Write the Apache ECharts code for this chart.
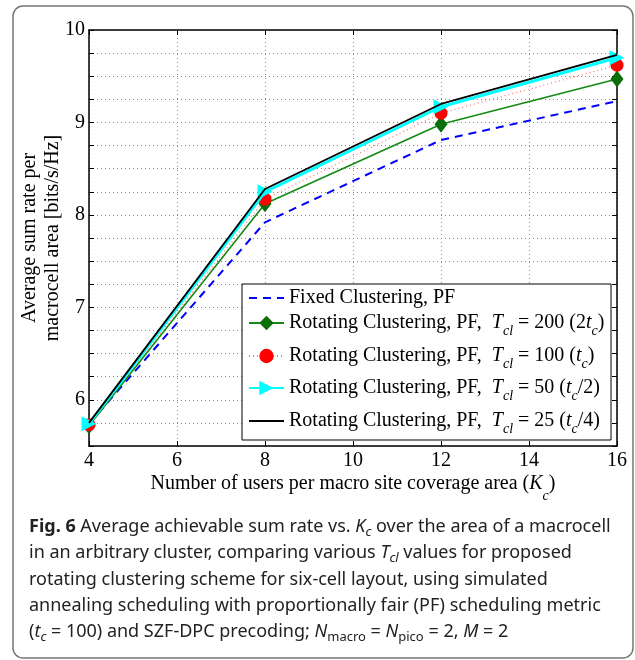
<!DOCTYPE html>
<html>
<head>
<meta charset="utf-8">
<script src="https://cdn.jsdelivr.net/npm/echarts@6/dist/echarts.min.js"></script>
<style>html,body{margin:0;padding:0;background:#fff}#c{width:635px;height:660px}</style>
</head>
<body>
<div id="c"></div>
<script>
const xValues = [4, 8, 12, 16];
const fixedPF = [5.74, 7.92, 8.81, 9.23];
const rotT200 = [5.72, 8.12, 8.98, 9.47];
const rotT100 = [5.73, 8.17, 9.10, 9.62];
const rotT50 = [5.74, 8.25, 9.17, 9.70];
const rotT25 = [5.75, 8.28, 9.20, 9.73];
const seriesNames = ['Fixed Clustering, PF', 'Rotating Clustering, PF, T200', 'Rotating Clustering, PF, T100', 'Rotating Clustering, PF, T50', 'Rotating Clustering, PF, T25'];
const legendLabels = [
  'Fixed Clustering, PF',
  'Rotating Clustering, PF,  {it|T}{sub|cl}{n| = 200 (2}{it|t}{sub|c}{n|)}',
  'Rotating Clustering, PF,  {it|T}{sub|cl}{n| = 100 (}{it|t}{sub|c}{n|)}',
  'Rotating Clustering, PF,  {it|T}{sub|cl}{n| = 50 (}{it|t}{sub|c}{n|/2)}',
  'Rotating Clustering, PF,  {it|T}{sub|cl}{n| = 25 (}{it|t}{sub|c}{n|/4)}'
];
const captionLines = [
  '{b|Fig. 6} Average achievable sum rate vs. {i|K}{s|c} over the area of a macrocell',
  'in an arbitrary cluster, comparing various {i|T}{s|cl} values for proposed',
  'rotating clustering scheme for six-cell layout, using simulated',
  'annealing scheduling with proportionally fair (PF) scheduling metric',
  '({i|t}{s|c} = 100) and SZF-DPC precoding; {i|N}{sn|macro} = {i|N}{sn|pico} = 2, {i|M} = 2'
];

const SERIF = 'Liberation Serif';
const SANS = 'Noto Sans';
const pair = (ys) => xValues.map((x, i) => [x, ys[i]]);

const chart = echarts.init(document.getElementById('c'), null, {renderer: 'canvas'});

const legendRich = {
  it: {fontFamily: SERIF, fontStyle: 'italic', fontSize: 20, lineHeight: 30, color: '#000'},
  sub: {fontFamily: SERIF, fontStyle: 'italic', fontSize: 14, lineHeight: 30, verticalAlign: 'bottom', color: '#000'},
  n: {fontFamily: SERIF, fontSize: 20, lineHeight: 30, color: '#000'}
};
const legendCenters = [298, 323, 356, 388, 421];
const hideSymbol = [true, false, false, false, true];
const legends = seriesNames.map((nm, i) => ({
  data: [nm],
  left: 248,
  top: legendCenters[i] - 15,
  padding: 0,
  itemWidth: 35,
  itemHeight: 18,
  selectedMode: false,
  itemStyle: hideSymbol[i] ? {opacity: 0} : {},
  formatter: () => legendLabels[i],
  textStyle: {fontFamily: SERIF, fontSize: 20, lineHeight: 30, color: '#000', rich: legendRich},
  z: 10
}));

const capRich = {
  b: {fontFamily: SANS, fontSize: 18, fontWeight: 'bold', lineHeight: 24, fill: '#222'},
  i: {fontFamily: SANS, fontSize: 18, fontStyle: 'italic', lineHeight: 24, fill: '#222'},
  s: {fontFamily: SANS, fontSize: 13, fontStyle: 'italic', lineHeight: 24, verticalAlign: 'bottom', fill: '#222'},
  sn: {fontFamily: SANS, fontSize: 13, lineHeight: 24, verticalAlign: 'bottom', fill: '#222'}
};
const captionTops = [527, 553, 580, 606, 632];
const captionGraphics = captionLines.map((t, i) => ({
  type: 'text',
  left: 29,
  top: captionTops[i] - 12,
  z: 20,
  style: {text: t, font: '18px "Noto Sans"', fill: '#222', lineHeight: 24, rich: capRich}
}));

const option = {
  animation: false,
  backgroundColor: '#fff',
  grid: {left: 89, right: 18, top: 30, bottom: 214, containLabel: false},
  legend: legends,
  graphic: [
    {type: 'rect', z: 0, silent: true, shape: {x: 13, y: 6, width: 620, height: 652, r: 10}, style: {fill: 'none', stroke: '#777', lineWidth: 1.5}},
    {type: 'rect', z: 5, silent: true, shape: {x: 242, y: 284, width: 369, height: 156}, style: {fill: '#fff', stroke: '#000', lineWidth: 1}}
  ].concat(captionGraphics),
  xAxis: [{
    type: 'value', min: 4, max: 16, interval: 2, position: 'bottom',
    axisLine: {show: true, onZero: false, lineStyle: {color: '#000', width: 1.5}},
    axisTick: {show: true, inside: true, length: 5, lineStyle: {color: '#000'}},
    axisLabel: {color: '#000', fontFamily: SERIF, fontSize: 20, margin: 5},
    splitLine: {show: true, lineStyle: {color: '#888', type: [1, 3], width: 1}},
    name: 'Number of users per macro site coverage area ({it|K}{sub|c})',
    nameLocation: 'middle', nameGap: 27, nameMoveOverlap: false,
    nameTextStyle: {color: '#000', fontFamily: SERIF, fontSize: 20, lineHeight: 22,
      rich: {it: {fontFamily: SERIF, fontStyle: 'italic', fontSize: 20, lineHeight: 22, color: '#000'},
             sub: {fontFamily: SERIF, fontStyle: 'italic', fontSize: 14, lineHeight: 22, verticalAlign: 'bottom', color: '#000', padding: [0,0,-8,0]}}}
  }, {
    type: 'value', min: 4, max: 16, interval: 2, position: 'top',
    axisLine: {show: true, onZero: false, lineStyle: {color: '#000', width: 1.5}},
    axisTick: {show: true, inside: true, length: 5, lineStyle: {color: '#000'}},
    axisLabel: {show: false}, splitLine: {show: false}
  }],
  yAxis: [{
    type: 'value', min: 5.5, max: 10, interval: 0.25, position: 'left',
    axisLine: {show: true, onZero: false, lineStyle: {color: '#000', width: 1.5}},
    axisTick: {show: true, inside: true, length: 5, lineStyle: {color: '#000'}},
    axisLabel: {color: '#000', fontFamily: SERIF, fontSize: 20, margin: 4,
      formatter: (v) => (Math.abs(v - Math.round(v)) < 1e-9 ? String(Math.round(v)) : '')},
    splitLine: {show: true, lineStyle: {color: '#888', type: [1, 3], width: 1}},
    name: 'Average sum rate per\nmacrocell area [bits/s/Hz]',
    nameLocation: 'middle', nameGap: 25, nameMoveOverlap: false,
    nameTextStyle: {color: '#000', fontFamily: SERIF, fontSize: 20, lineHeight: 23}
  }, {
    type: 'value', min: 5.5, max: 10, interval: 0.25, position: 'right',
    axisLine: {show: true, onZero: false, lineStyle: {color: '#000', width: 1.5}},
    axisTick: {show: true, inside: true, length: 5, lineStyle: {color: '#000'}},
    axisLabel: {show: false}, splitLine: {show: false}
  }],
  series: [
    {name: seriesNames[0], type: 'line', data: pair(fixedPF), symbol: 'none', z: 2,
      lineStyle: {color: '#0000ff', width: 2, type: [8, 6]}, itemStyle: {color: '#0000ff'}},
    {name: seriesNames[1], type: 'line', data: pair(rotT200), symbol: 'diamond', symbolSize: [13, 17], z: 3,
      lineStyle: {color: '#138a13', width: 1.6}, itemStyle: {color: '#0a6e0a'}},
    {name: seriesNames[2], type: 'line', data: pair(rotT100), symbol: 'circle', symbolSize: 13, z: 4,
      lineStyle: {color: '#ff7070', width: 1.2, type: [1, 3]}, itemStyle: {color: '#ff0000'}},
    {name: seriesNames[3], type: 'line', data: pair(rotT50), symbol: 'triangle', symbolRotate: -90, symbolSize: 15, z: 5,
      lineStyle: {color: '#00ffff', width: 3}, itemStyle: {color: '#00ffff'}},
    {name: seriesNames[4], type: 'line', data: pair(rotT25), symbol: 'none', z: 6,
      lineStyle: {color: '#000000', width: 1.8}, itemStyle: {color: '#000000'}}
  ]
};
chart.setOption(option);
</script>
</body>
</html>
